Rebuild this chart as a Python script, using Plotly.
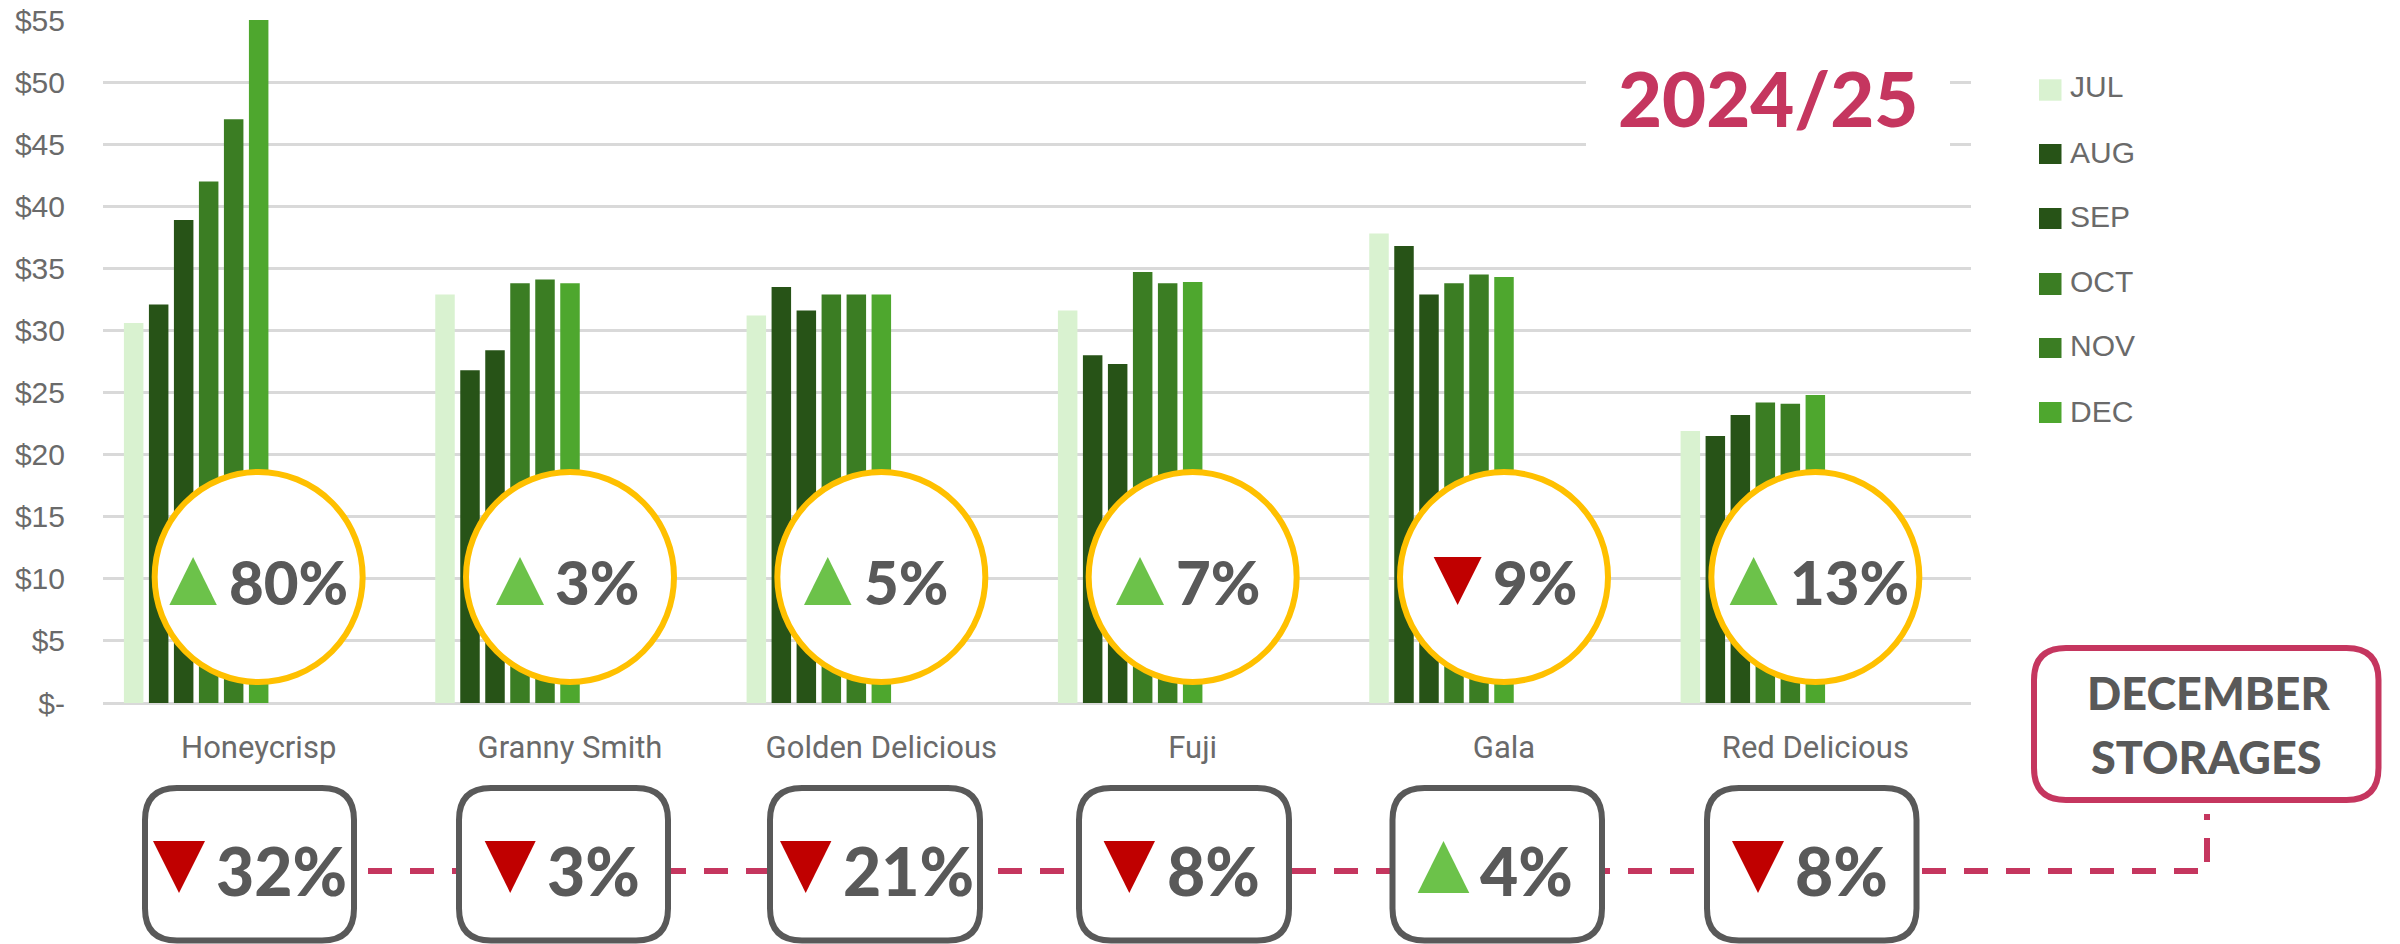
import plotly.graph_objects as go

W, H = 2400, 944
PL, PR, PT, PB = 103, 1971, 20, 703

categories = ["Honeycrisp", "Granny Smith", "Golden Delicious", "Fuji", "Gala", "Red Delicious"]
months = ["JUL", "AUG", "SEP", "OCT", "NOV", "DEC"]
jul = [30.6, 32.9, 31.2, 31.6, 37.8, 21.9]
aug = [32.1, 26.8, 33.5, 28.0, 36.8, 21.5]
sep = [38.9, 28.4, 31.6, 27.3, 32.9, 23.2]
oct_ = [42.0, 33.8, 32.9, 34.7, 33.8, 24.2]
nov = [47.0, 34.1, 32.9, 33.8, 34.5, 24.1]
dec = [55.0, 33.8, 32.9, 33.9, 34.3, 24.8]
series = [jul, aug, sep, oct_, nov, dec]
colors = ["#D9F2D0", "#275317", "#275317", "#3B7D23", "#3B7D23", "#4EA72E"]

price_change = [80, 3, 5, 7, -9, 13]
storage_change = [-32, -3, -21, -8, 4, -8]
y_ticks = list(range(0, 60, 5))
y_labels = ["$-"] + [f"${v}" for v in y_ticks[1:]]

GREY, PINK, GOLD, UP, DOWN = "#595959", "#C5365F", "#FFC000", "#6CC24A", "#C00000"
TICK = "#6A6A6A"
BIG = "Lato"

def fx(p): return (p - PL) / (PR - PL)
def fy(p): return (PB - p) / (PB - PT)

group = (PR - PL) / 6
bar_w = 19.5 / group
pitch = 25 / group

fig = go.Figure()
for i, (m, vals, col) in enumerate(zip(months, series, colors)):
    fig.add_trace(go.Bar(
        name=m, x=categories, y=vals, marker=dict(color=col, line=dict(width=0)),
        width=bar_w, offset=(i - 5) * pitch - bar_w / 2, showlegend=False,
    ))

shapes, ann = [], []

def rrect(x0, y0, x1, y1, r, color, lw):
    p = (f"M {fx(x0+r)} {fy(y0)} L {fx(x1-r)} {fy(y0)} Q {fx(x1)} {fy(y0)} {fx(x1)} {fy(y0+r)} "
         f"L {fx(x1)} {fy(y1-r)} Q {fx(x1)} {fy(y1)} {fx(x1-r)} {fy(y1)} "
         f"L {fx(x0+r)} {fy(y1)} Q {fx(x0)} {fy(y1)} {fx(x0)} {fy(y1-r)} "
         f"L {fx(x0)} {fy(y0+r)} Q {fx(x0)} {fy(y0)} {fx(x0+r)} {fy(y0)} Z")
    shapes.append(dict(type="path", xref="paper", yref="paper", path=p, fillcolor="white",
                       line=dict(color=color, width=lw), layer="above"))

def tri(x0, x1, ytop, ybot, up):
    xm = (x0 + x1) / 2
    if up:
        p = f"M {fx(x0)} {fy(ybot)} L {fx(x1)} {fy(ybot)} L {fx(xm)} {fy(ytop)} Z"
    else:
        p = f"M {fx(x0)} {fy(ytop)} L {fx(x1)} {fy(ytop)} L {fx(xm)} {fy(ybot)} Z"
    shapes.append(dict(type="path", xref="paper", yref="paper", path=p,
                       fillcolor=UP if up else DOWN, line=dict(width=0), layer="above"))

def text(x, y, s, size, color=GREY, family=BIG, bold=True, anchor="center", weight=None):
    font = dict(family=family, size=size, color=color)
    if bold:
        font["weight"] = weight or 900
    ann.append(dict(xref="paper", yref="paper", x=fx(x), y=fy(y), text=s,
                    showarrow=False, xanchor=anchor, yanchor="middle", font=font))

# white patch behind season label
shapes.append(dict(type="rect", xref="paper", yref="paper", x0=fx(1586), x1=fx(1950), y0=fy(170), y1=fy(40),
                   fillcolor="white", line=dict(width=0), layer="above"))
text(1768, 98, "2024/25", 76, PINK)

# circles (price change)
circ_tri = [(169.4, 216.8), (496, 544), (804, 851.5), (1116, 1164), (1433.7, 1481.6), (1729.6, 1777.6)]
circ_txt = [(229.6, 348), (556, 638), (865, 947), (1177.5, 1259), (1493, 1576.5), (1791, 1907.6)]
for i, v in enumerate(price_change):
    cx = PL + group * (i + 0.5)
    cy = 577
    shapes.append(dict(type="circle", xref="paper", yref="paper", x0=fx(cx - 104), x1=fx(cx + 104),
                       y0=fy(cy + 105), y1=fy(cy - 105), fillcolor="white",
                       line=dict(color=GOLD, width=6), layer="above"))
    tri(*circ_tri[i], 557, 605, v > 0)
    text(sum(circ_txt[i]) / 2, 582, f"{abs(v)}%", 60)

# dashed connector
shapes.append(dict(type="path", xref="paper", yref="paper",
                   path=f"M {fx(368)} {fy(871)} L {fx(2207)} {fy(871)} L {fx(2207)} {fy(814)}",
                   line=dict(color=PINK, width=6, dash="24px,18px"), layer="above"))

# boxes (storage change)
box_x = [(142, 357), (456, 671), (767, 983), (1076, 1292), (1389.5, 1605), (1704, 1919.5)]
box_tri = [(153, 205), (484.7, 535.7), (780, 831.4), (1103.6, 1155), (1417.7, 1469.3), (1732, 1784)]
box_txt = [(218, 344), (549.5, 638), (846.4, 971.4), (1168.6, 1257.9), (1481.7, 1571), (1796, 1886)]
for i, v in enumerate(storage_change):
    x0, x1 = box_x[i]
    rrect(x0 + 3, 788, x1 - 3, 940.5, 32, GREY, 6)
    tri(*box_tri[i], 841, 893, v > 0)
    text(sum(box_txt[i]) / 2, 870, f"{abs(v)}%", 66)

# December storages callout
rrect(2034, 648, 2378.5, 800, 32, PINK, 6)
text(2208, 693, "DECEMBER", 45)
text(2206, 757, "STORAGES", 45)

# legend key
swatch_y = [(79.3, 100.7), (144, 164), (208, 229), (273, 295), (338, 358), (402, 423)]
label_y = [87, 152, 216, 281, 346, 411]
for m, col, (y0, y1), ly in zip(months, colors, swatch_y, label_y):
    shapes.append(dict(type="rect", xref="paper", yref="paper", x0=fx(2039), x1=fx(2061.5),
                       y0=fy(y1), y1=fy(y0), fillcolor=col, line=dict(width=0), layer="above"))
    text(2068, ly, m, 30, TICK, "Liberation Sans", False, "left")

fig.update_layout(
    width=W, height=H, autosize=False, paper_bgcolor="white", plot_bgcolor="white",
    margin=dict(l=PL, r=W - PR, t=PT, b=H - PB, pad=0, autoexpand=False), barmode="overlay",
    shapes=shapes, annotations=ann, showlegend=False,
    xaxis=dict(type="category", categoryorder="array", categoryarray=categories, showgrid=False,
               automargin=False, showline=False, ticks="", tickfont=dict(family="Roboto", size=31, color=TICK),
               ticklabelstandoff=23, range=[-0.5, 5.5]),
    yaxis=dict(range=[0, 55], tickmode="array", tickvals=y_ticks, ticktext=y_labels, showgrid=True,
               automargin=False, gridcolor="#D9D9D9", gridwidth=3, zeroline=True, zerolinecolor="#D9D9D9", zerolinewidth=3,
               showline=False, ticks="", ticklabelstandoff=37,
               tickfont=dict(family="Liberation Sans", size=30, color=TICK)),
)
fig.write_html("out.html", config={"displayModeBar": False},
               post_script="document.body.style.margin='0';document.body.style.overflow='hidden';")
